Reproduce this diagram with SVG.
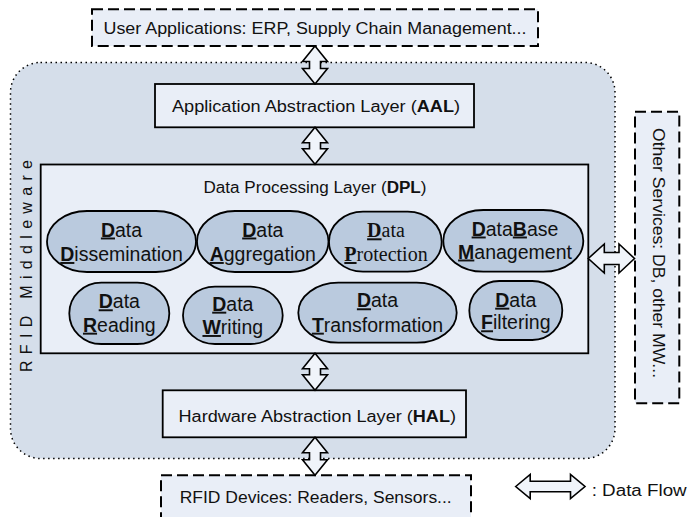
<svg xmlns="http://www.w3.org/2000/svg" width="689" height="517" viewBox="0 0 689 517">
<style>
  .lbl{font-family:"Liberation Sans",Arial,sans-serif;font-size:16px;fill:#111;}
  .ov{fill:#bacade;stroke:#000;stroke-width:1.8;}
  .ot{font-family:"Liberation Sans",Arial,sans-serif;font-size:19.5px;fill:#111;text-anchor:middle;}
  .os{font-family:"Liberation Serif","Times New Roman",serif;font-size:20px;fill:#111;text-anchor:middle;}
  .b{font-weight:bold;}
  .u{font-weight:bold;text-decoration:underline;}
  .box{fill:#e9eef7;stroke:#000;stroke-width:1.8;}
  .dash{fill:#e9eef7;stroke:#000;stroke-width:2;stroke-dasharray:11 5;}
  .arr{fill:#f0f4fa;stroke:#000;stroke-width:1.6;stroke-linejoin:miter;}
</style>
<rect width="689" height="517" fill="#fff"/>

<g id="middleware">
  <rect x="10.5" y="62.5" width="604.5" height="396" rx="30" ry="30" fill="#d5deea" stroke="#000" stroke-width="1.5" stroke-dasharray="1.5 3.5"/>
  <text class="lbl" transform="translate(31.5,266) rotate(-90)" text-anchor="middle" textLength="212" lengthAdjust="spacing">RFID Middleware</text>
</g>

<g id="user-apps">
  <rect class="dash" x="92" y="9.3" width="446" height="36.7"/>
  <text class="lbl" x="103.5" y="34.3" textLength="423" lengthAdjust="spacingAndGlyphs">User Applications: ERP, Supply Chain Management...</text>
</g>

<g id="aal">
  <rect class="box" x="155" y="84" width="319" height="43.3"/>
  <text class="lbl" x="172" y="111.7" textLength="288" lengthAdjust="spacingAndGlyphs">Application Abstraction Layer (<tspan class="b">AAL</tspan>)</text>
</g>

<g id="dpl">
  <rect class="box" x="40.7" y="164.5" width="547.6" height="188.8"/>
  <text class="lbl" x="203.5" y="193.3" font-size="16.5" textLength="223" lengthAdjust="spacingAndGlyphs">Data Processing Layer (<tspan class="b">DPL</tspan>)</text>
</g>

<g id="data-dissemination">
  <rect class="ov" x="47" y="211" width="149" height="61" rx="40" ry="30.5"/>
  <text class="ot" x="121.5" y="236.5"><tspan class="u">D</tspan>ata</text>
  <text class="ot" x="121.5" y="261"><tspan class="u">D</tspan>issemination</text>
</g>

<g id="data-aggregation">
  <rect class="ov" x="197" y="211" width="131.5" height="61" rx="38" ry="30.5"/>
  <text class="ot" x="262.8" y="236.5"><tspan class="u">D</tspan>ata</text>
  <text class="ot" x="262.8" y="261"><tspan class="u">A</tspan>ggregation</text>
</g>

<g id="data-protection">
  <rect class="ov" x="329" y="211.7" width="112.7" height="60" rx="34" ry="30"/>
  <text class="os" x="386" y="237.3"><tspan class="u">D</tspan>ata</text>
  <text class="os" x="386" y="261"><tspan class="u">P</tspan>rotection</text>
</g>

<g id="database-management">
  <rect class="ov" x="443.3" y="210" width="140" height="61.7" rx="40" ry="30.8"/>
  <text class="ot" x="515" y="235.5"><tspan class="u">D</tspan>ata<tspan class="u">B</tspan>ase</text>
  <text class="ot" x="515" y="258.5"><tspan class="u">M</tspan>anagement</text>
</g>

<g id="data-reading">
  <rect class="ov" x="69.3" y="282.7" width="100" height="61.3" rx="32" ry="30.6"/>
  <text class="ot" x="119.3" y="308.3"><tspan class="u">D</tspan>ata</text>
  <text class="ot" x="119.3" y="331.7"><tspan class="u">R</tspan>eading</text>
</g>

<g id="data-writing">
  <rect class="ov" x="183" y="286.7" width="99.7" height="57.3" rx="32" ry="28.6"/>
  <text class="ot" x="232.8" y="310.7"><tspan class="u">D</tspan>ata</text>
  <text class="ot" x="232.8" y="334"><tspan class="u">W</tspan>riting</text>
</g>

<g id="data-transformation">
  <rect class="ov" x="298.3" y="282.7" width="158.4" height="60" rx="40" ry="30"/>
  <text class="ot" x="377.5" y="307.3"><tspan class="u">D</tspan>ata</text>
  <text class="ot" x="377.5" y="331.7"><tspan class="u">T</tspan>ransformation</text>
</g>

<g id="data-filtering">
  <rect class="ov" x="469.3" y="281" width="93" height="59" rx="30" ry="29.5"/>
  <text class="ot" x="515.8" y="306.7"><tspan class="u">D</tspan>ata</text>
  <text class="ot" x="515.8" y="329.3"><tspan class="u">F</tspan>iltering</text>
</g>

<g id="hal">
  <rect class="box" x="162.7" y="390.3" width="303.3" height="47"/>
  <text class="lbl" x="178.5" y="421.7" textLength="277.5" lengthAdjust="spacingAndGlyphs">Hardware Abstraction Layer (<tspan class="b">HAL</tspan>)</text>
</g>

<g id="rfid-devices">
  <rect class="dash" x="161" y="475.3" width="310" height="50"/>
  <text class="lbl" x="179.7" y="503.3" textLength="272" lengthAdjust="spacingAndGlyphs">RFID Devices: Readers, Sensors...</text>
</g>

<g id="other-services">
  <rect class="dash" x="635" y="111.7" width="44.3" height="291.6"/>
  <text class="lbl" font-size="17" transform="translate(652.7,253) rotate(90)" text-anchor="middle" textLength="250" lengthAdjust="spacingAndGlyphs">Other Services: DB, other MW...</text>
</g>

<g id="legend">
  <path class="arr" d="M515.7,486.5 L530.2,474.5 L530.2,481.2 L570.5,481.2 L570.5,474.5 L585,486.5 L570.5,498.5 L570.5,491.8 L530.2,491.8 L530.2,498.5 Z"/>
  <text class="lbl" x="591.7" y="495.5" textLength="95" lengthAdjust="spacingAndGlyphs">:  Data Flow</text>
</g>

<g id="connectors">
  <path class="arr" d="M315,46 L327.5,61.5 L320.5,61.5 L320.5,68.5 L327.5,68.5 L315,84 L302.5,68.5 L309.5,68.5 L309.5,61.5 L302.5,61.5 Z"/>
  <path class="arr" d="M315,127.3 L327.5,142.8 L320.5,142.8 L320.5,148.8 L327.5,148.8 L315,164.3 L302.5,148.8 L309.5,148.8 L309.5,142.8 L302.5,142.8 Z"/>
  <path class="arr" d="M315,353.3 L327.5,368.8 L320.5,368.8 L320.5,374.8 L327.5,374.8 L315,390.3 L302.5,374.8 L309.5,374.8 L309.5,368.8 L302.5,368.8 Z"/>
  <path class="arr" d="M315,437.3 L327.5,452.8 L320.5,452.8 L320.5,459.8 L327.5,459.8 L315,475.3 L302.5,459.8 L309.5,459.8 L309.5,452.8 L302.5,452.8 Z"/>
  <path class="arr" d="M588.3,258.5 L604.3,244 L604.3,252.5 L619,252.5 L619,244 L634.5,258.5 L619,273 L619,264.5 L604.3,264.5 L604.3,273 Z"/>
</g>
</svg>
